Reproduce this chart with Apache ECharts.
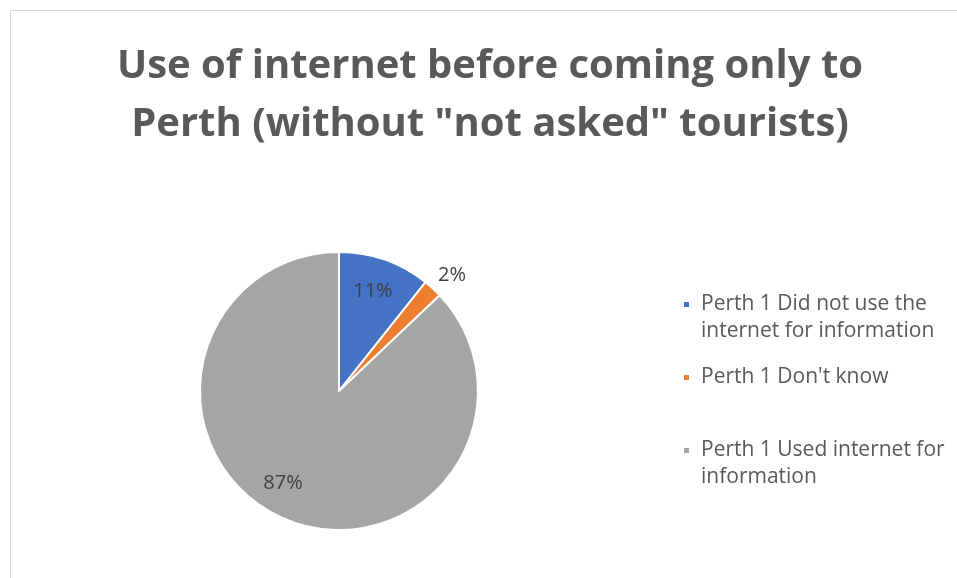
<!DOCTYPE html>
<html>
<head>
<meta charset="utf-8">
<script src="https://cdn.jsdelivr.net/npm/echarts@6/dist/echarts.min.js"></script>
<style>
html,body{margin:0;padding:0;background:#fff;}
#chart{width:957px;height:578px;}
</style>
</head>
<body>
<div id="chart"></div>
<script>
const titleText = 'Use of internet before coming only to\nPerth (without "not asked" tourists)';
const categories = [
  'Perth 1 Did not use the internet for information',
  "Perth 1 Don't know",
  'Perth 1 Used internet for information'
];
const legendLines = [
  'Perth 1 Did not use the\ninternet for information',
  "Perth 1 Don't know\n ",
  'Perth 1 Used internet for\ninformation'
];
const shares = [10.7, 2.2, 87.1];
const colors = ['#4472C4', '#ED7D31', '#A5A5A5'];

// small label nudges (style only)
const labelNudge = [[-2, 3], [0, 2], [-13, -8]];

const FONT = '"Open Sans", Lato, sans-serif';
const chart = echarts.init(document.getElementById('chart'), null, {renderer: 'canvas'});

const baseData = categories.map((n, i) => ({name: n, value: shares[i], itemStyle: {color: colors[i]}}));
const labelData = categories.map((n, i) => ({
  name: n,
  value: shares[i],
  label: i === 1
    ? {position: 'outside', distanceToLabelLine: -9}
    : {position: 'inside'}
}));

chart.setOption({
  backgroundColor: '#fff',
  animation: false,
  graphic: [{
    type: 'rect',
    shape: {x: 10.5, y: 10.5, width: 2000, height: 2000},
    style: {fill: 'none', stroke: '#D9D9D9', lineWidth: 1},
    silent: true
  }],
  title: {
    text: titleText,
    left: 490,
    textAlign: 'center',
    top: 37,
    padding: 0,
    textStyle: {
      fontFamily: FONT,
      fontWeight: 'bold',
      fontSize: 40,
      lineHeight: 58.6,
      color: '#595959'
    }
  },
  legend: {
    orient: 'vertical',
    left: 682,
    top: 291,
    padding: 0,
    itemGap: 19,
    itemWidth: 13,
    itemHeight: 34,
    icon: 'path://M0,0h7v7h-7zM0,34L13,34',
    data: categories,
    formatter: (name) => legendLines[categories.indexOf(name)],
    textStyle: {
      fontFamily: FONT,
      fontSize: 21,
      lineHeight: 27,
      color: '#595959',
      padding: 0
    },
    selectedMode: false
  },
  series: [
    {
      type: 'pie',
      center: [339, 391],
      radius: [0, 139],
      startAngle: 90,
      clockwise: true,
      avoidLabelOverlap: false,
      label: {show: false},
      labelLine: {show: false},
      itemStyle: {borderColor: '#fff', borderWidth: 2},
      emphasis: {disabled: true},
      data: baseData
    },
    {
      type: 'pie',
      silent: true,
      center: [339, 391],
      radius: [73, 139],
      startAngle: 90,
      clockwise: true,
      avoidLabelOverlap: false,
      itemStyle: {color: 'rgba(0,0,0,0)', borderWidth: 0},
      label: {
        show: true,
        fontFamily: FONT,
        fontSize: 20,
        color: '#404040',
        formatter: (p) => Math.round(p.percent) + '%'
      },
      labelLine: {show: false, length: 21, length2: 0},
      labelLayout: (p) => ({dx: labelNudge[p.dataIndex][0], dy: labelNudge[p.dataIndex][1]}),
      emphasis: {disabled: true},
      data: labelData
    }
  ]
});
</script>
</body>
</html>
